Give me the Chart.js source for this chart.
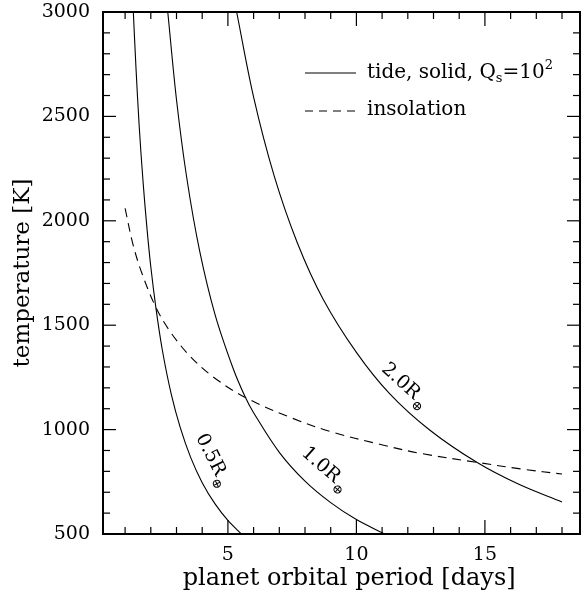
<!DOCTYPE html>
<html>
<head>
<meta charset="utf-8">
<script src="https://cdn.jsdelivr.net/npm/chart.js@4.4.1/dist/chart.umd.min.js"></script>
<style>
  html, body { margin: 0; padding: 0; background: #fff; }
  #wrap { width: 582px; height: 599px; }
</style>
</head>
<body>
<div id="wrap"><canvas id="chart" width="582" height="599"></canvas></div>
<script>
/* Tidal vs. insolation temperature against orbital period */

const FONT = '"DejaVu Serif", serif';

// values: period [days], temperature [K]
const tide05Period = [1.32, 1.42, 1.55, 1.70, 1.85, 2.00, 2.20, 2.45, 2.80, 3.15, 3.55, 4.00, 4.50, 5.00, 5.55];
const tide05Temp   = [3000, 2740, 2450, 2185, 1965, 1780, 1582, 1380, 1167, 1008,  867,  746,  644,  565,  497];

const tide10Period = [2.66, 3.00, 3.40, 3.90, 4.50, 5.20, 5.66, 6.00, 7.00, 8.00, 9.00, 10.0, 11.1];
const tide10Temp   = [3000, 2580, 2205, 1856, 1551, 1294, 1160, 1081,  891,  753,  650,  569,  500];

const tide20Period = [5.34, 6.00, 6.80, 7.70, 8.70, 10.0, 11.3, 12.85, 14.7, 16.3, 18.0];
const tide20Temp   = [3000, 2592, 2215, 1895, 1626, 1370, 1171, 998,   842,  739,  653];

const insolPeriod  = [1.00, 1.30, 1.65, 2.20, 2.75, 3.50, 4.40, 5.66, 7.50, 9.00, 10.9, 12.5, 14.7, 16.5, 18.0];
const insolTemp    = [2060, 1890, 1750, 1585, 1470, 1355, 1255, 1155, 1055,  990,  930,  886,  843,  810,  787];

const xTickLabels = [5, 10, 15];
const yTickLabels = [500, 1000, 1500, 2000, 2500, 3000];

// curve labels: text, anchor (period, temperature), rotation in degrees
const curveNames  = ['0.5R', '1.0R', '2.0R'];
const curveAnchor = [[4.41, 856], [8.77, 813], [11.88, 1213]];
const curveAngle  = [63, 41, 42];

const pts = (xs, ys) => xs.map((v, i) => ({ x: v, y: ys[i] }));

const lineStyle = {
  borderColor: '#000',
  borderWidth: 1.1,
  pointRadius: 0,
  fill: false,
  tension: 0.35,
};

// inward ticks on all four sides, frame, curve labels and the key
const decorations = {
  id: 'decorations',
  afterDraw(chart) {
    const { ctx, chartArea: a, scales: { x, y } } = chart;
    const seg = (x0, y0, x1, y1) => {
      ctx.beginPath(); ctx.moveTo(x0, y0); ctx.lineTo(x1, y1); ctx.stroke();
    };
    ctx.save();
    ctx.strokeStyle = '#000';
    ctx.fillStyle = '#000';

    ctx.lineWidth = 1.2;
    for (let v = 1; v <= 18; v++) {
      const px = x.getPixelForValue(v);
      const len = v % 5 === 0 ? 14 : 7;
      seg(px, a.bottom, px, a.bottom - len);
      seg(px, a.top, px, a.top + len);
    }
    for (let v = 600; v < 3000; v += 100) {
      const py = y.getPixelForValue(v);
      const len = v % 500 === 0 ? 13 : 7;
      seg(a.left, py, a.left + len, py);
      seg(a.right, py, a.right - len, py);
    }

    ctx.lineWidth = 2;
    ctx.strokeRect(a.left, a.top, a.right - a.left, a.bottom - a.top);

    // R⊕ labels along the tide curves
    curveNames.forEach((name, i) => {
      const px = x.getPixelForValue(curveAnchor[i][0]);
      const py = y.getPixelForValue(curveAnchor[i][1]);
      ctx.save();
      ctx.translate(px, py);
      ctx.rotate(curveAngle[i] * Math.PI / 180);
      ctx.textBaseline = 'middle';
      ctx.textAlign = 'left';
      ctx.font = '19px ' + FONT;
      const w = ctx.measureText(name).width;
      ctx.font = '13px ' + FONT;
      const ws = ctx.measureText('\u2295').width;
      const x0 = -(w + ws) / 2;
      ctx.font = '19px ' + FONT;
      ctx.fillText(name, x0, 0);
      ctx.font = '13px ' + FONT;
      ctx.fillText('\u2295', x0 + w + 1, 8);
      ctx.restore();
    });

    // key
    const kx = a.left + 202, ky1 = a.top + 61, ky2 = a.top + 99;
    ctx.lineWidth = 1.1;
    seg(kx, ky1, kx + 51, ky1);
    ctx.setLineDash([8, 6]);
    seg(kx, ky2, kx + 52, ky2);
    ctx.setLineDash([]);

    ctx.textBaseline = 'middle';
    ctx.textAlign = 'left';
    let tx = kx + 62;
    const put = (s, size, dy) => {
      ctx.font = size + 'px ' + FONT;
      ctx.fillText(s, tx, ky1 + dy);
      tx += ctx.measureText(s).width;
    };
    put('tide, solid, Q', 20, 0);
    put('s', 13, 6);
    put('=10', 20, 0);
    put('2', 13, -7);

    ctx.font = '20px ' + FONT;
    ctx.fillText('insolation', kx + 62, ky2 - 1);
    ctx.restore();
  },
};

new Chart(document.getElementById('chart'), {
  type: 'line',
  data: {
    datasets: [
      { label: 'tide 0.5', data: pts(tide05Period, tide05Temp), ...lineStyle },
      { label: 'tide 1.0', data: pts(tide10Period, tide10Temp), ...lineStyle },
      { label: 'tide 2.0', data: pts(tide20Period, tide20Temp), ...lineStyle },
      { label: 'insolation', data: pts(insolPeriod, insolTemp), ...lineStyle, borderDash: [9, 6] },
    ],
  },
  options: {
    responsive: false,
    animation: false,
    layout: { padding: { top: 12, right: 2, left: 0, bottom: 0 } },
    plugins: { legend: { display: false }, tooltip: { enabled: false } },
    scales: {
      x: {
        type: 'linear',
        min: 0.14,
        max: 18.7,
        grid: { display: false, drawTicks: false },
        border: { display: false },
        afterBuildTicks: s => { s.ticks = xTickLabels.map(v => ({ value: v })); },
        afterFit: s => { s.height = 65; s.paddingLeft = 0; s.paddingRight = 0; },
        ticks: { color: '#000', font: { family: FONT, size: 19 }, padding: 10, maxRotation: 0,
                 callback: v => String(v) },
        title: {
          display: true,
          text: '\u00a0\u00a0planet orbital period [days]',
          color: '#000',
          font: { family: FONT, size: 24 },
          padding: { top: 0, bottom: 6 },
        },
      },
      y: {
        min: 500,
        max: 3000,
        grid: { display: false, drawTicks: false },
        border: { display: false },
        afterBuildTicks: s => { s.ticks = yTickLabels.map(v => ({ value: v })); },
        afterFit: s => { s.width = 103; s.paddingTop = 0; s.paddingBottom = 0; },
        ticks: { color: '#000', font: { family: FONT, size: 19 }, padding: 13,
                 callback: v => String(v) },
        title: {
          display: true,
          text: 'temperature [K]',
          color: '#000',
          font: { family: FONT, size: 23 },
          padding: { top: 9, bottom: 0 },
        },
      },
    },
  },
  plugins: [decorations],
});
</script>
</body>
</html>
